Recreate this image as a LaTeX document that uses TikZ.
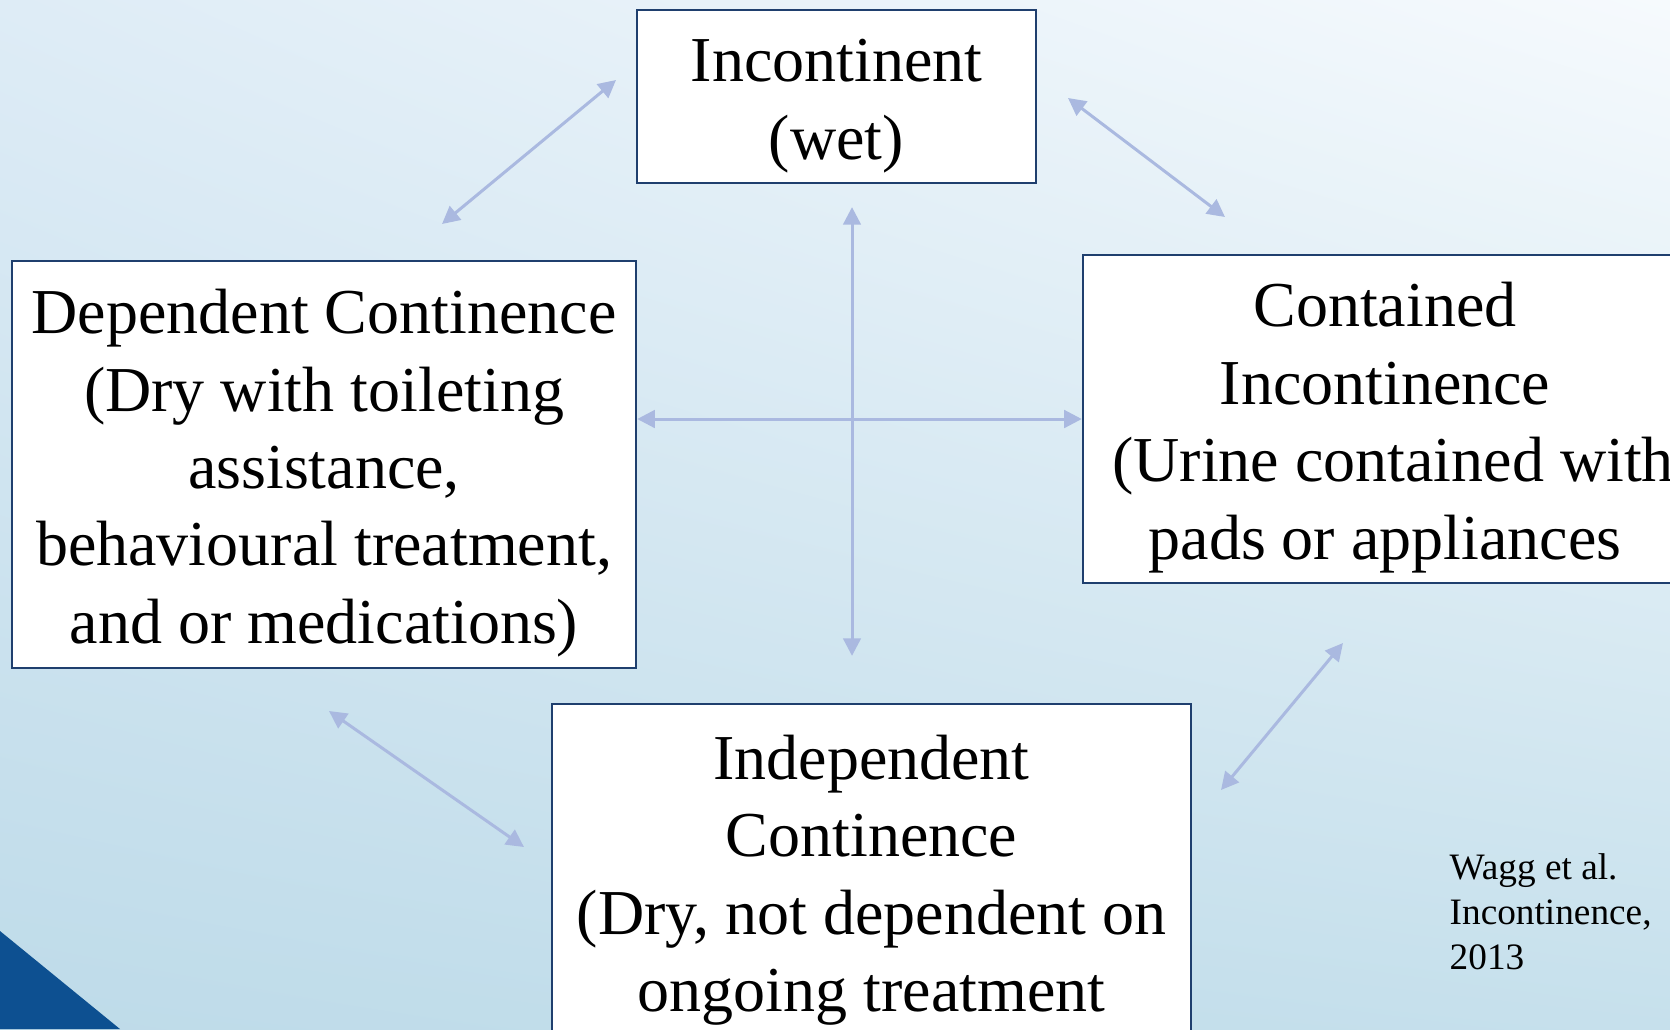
\documentclass[tikz,border=0pt]{standalone}
\usepackage{fontspec}
\setmainfont{Liberation Serif}
\usetikzlibrary{arrows.meta,shadings}
\definecolor{boxline}{HTML}{1F3F6E}
\definecolor{linkcol}{HTML}{AAB9E0}
\definecolor{cornerblue}{HTML}{0D5091}
\definecolor{bgtl}{HTML}{DEECF6}
\definecolor{bgtr}{HTML}{F6FAFD}
\definecolor{bgbl}{HTML}{BEDBE9}
\definecolor{bgbr}{HTML}{C6E0EC}
\newcommand{\topgap}{\rule{0pt}{17.5pt}}
\begin{document}
\begin{tikzpicture}[
            x=0.01cm, y=-0.01cm,
            box/.style = {shape=rectangle, draw=boxline, line width=0.6pt, fill=white, align=center, inner sep=0pt,
                          font=\fontsize{18.2}{22}\selectfont},
            link/.style = {draw=linkcol, line width=0.85pt, {Triangle[length=5pt,width=5pt]}-{Triangle[length=5pt,width=5pt]}}
        ]
        \clip (0,0) rectangle (1670,1029);
        \useasboundingbox (0,0) rectangle (1670,1029);
        % background
        \shade[upper left=bgtl, upper right=bgtr, lower left=bgbl, lower right=bgbr]
            (0,0) rectangle (1670,1029);
        \fill[cornerblue] (0,931) -- (120,1029) -- (0,1029) -- cycle;

        \node[box, minimum width=3.99cm, minimum height=1.73cm] (inc) at (836.5,96.5) {\topgap Incontinent\\(wet)};
        \node[box, minimum width=6.24cm, minimum height=4.07cm] (dep) at (324,464.5)
            {\topgap Dependent Continence\\(Dry with toileting\\assistance,\\behavioural treatment,\\and or medications)};
        \node[box, minimum width=6.04cm, minimum height=3.28cm] (cont) at (1385,419)
            {\topgap Contained\\Incontinence\\~(Urine contained with\\pads or appliances};
        \node[box, minimum width=6.39cm, minimum height=3.35cm] (indep) at (871.5,871.5)
            {\topgap Independent\\Continence\\(Dry, not dependent on\\ongoing treatment};
        \node[align=left, anchor=west, inner sep=0pt, font=\fontsize{10.6}{12.8}\selectfont] (ref) at (1449,912)
            {Wagg et al.\\Incontinence,\\2013};

        % connectors
        \coordinate (cross) at (852,419);
        \coordinate (tl1) at (616,80);
        \coordinate (tl2) at (442,224);
        \coordinate (tr1) at (1068,98);
        \coordinate (tr2) at (1225,217);
        \coordinate (br1) at (1343,643);
        \coordinate (br2) at (1221,790);
        \coordinate (bl1) at (329,711);
        \coordinate (bl2) at (524,847);
        \draw[link] (tl1) -- (tl2);
        \draw[link] (tr1) -- (tr2);
        \draw[link] (br1) -- (br2);
        \draw[link] (bl1) -- (bl2);
        \draw[link] (dep.east |- cross) -- (cont.west |- cross);
        \draw[link, shorten <=0.23cm, shorten >=0.47cm] (inc.south -| cross) -- (indep.north -| cross);
\end{tikzpicture}
\end{document}
